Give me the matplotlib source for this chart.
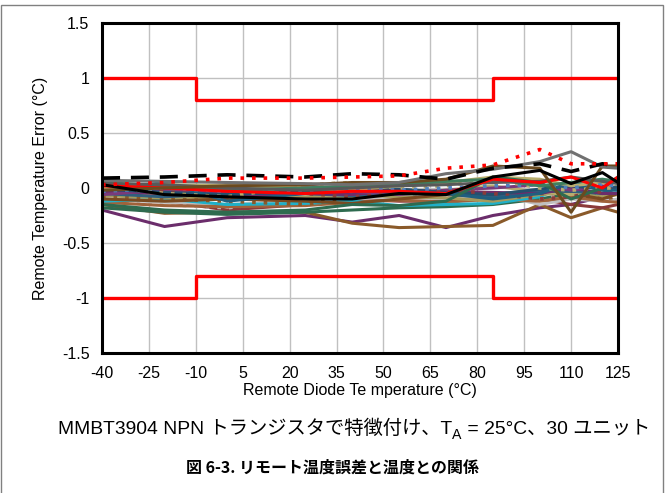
import matplotlib.pyplot as plt
from matplotlib.patches import Rectangle

# measurement temperatures (degC)
temps = [-40, -20, 0, 25, 40, 55, 70, 85, 100, 110, 120, 125]

# spec limits
limit_x = [-40, -10, -10, 85, 85, 125]
limit_hi = [1, 1, 0.8, 0.8, 1, 1]
limit_lo = [-1, -1, -0.8, -0.8, -1, -1]

# 30 units, error in degC
black_dash = [0.09, 0.10, 0.12, 0.10, 0.13, 0.12, 0.08, 0.18, 0.22, 0.15, 0.22, 0.20]
black_solid = [0.03, -0.06, -0.08, -0.10, -0.10, -0.05, -0.06, 0.10, 0.16, 0.04, 0.14, 0.05]
red_dot = [0.03, 0.05, 0.09, 0.09, 0.10, 0.11, 0.18, 0.21, 0.35, 0.22, 0.22, 0.22]
red_solid = [0.02, 0.00, -0.03, -0.05, -0.03, -0.03, -0.05, 0.08, 0.05, 0.10, 0.00, 0.10]
gray_solid = [0.07, 0.06, 0.05, 0.04, 0.03, 0.05, 0.13, 0.17, 0.24, 0.33, 0.19, 0.18]
purple_low = [-0.20, -0.35, -0.27, -0.25, -0.31, -0.25, -0.36, -0.25, -0.18, -0.15, -0.08, -0.12]
purple_mid = [-0.03, -0.05, -0.08, -0.05, -0.06, -0.02, -0.03, -0.04, -0.05, 0.00, -0.05, -0.05]
purple_hi = [-0.06, -0.02, -0.04, 0.02, -0.03, -0.06, -0.02, 0.00, 0.03, -0.02, 0.02, 0.00]
brown_low = [-0.15, -0.23, -0.22, -0.22, -0.32, -0.36, -0.35, -0.34, -0.15, -0.27, -0.18, -0.22]
brown_hi = [-0.02, 0.00, 0.02, 0.03, 0.05, 0.05, 0.08, 0.20, 0.18, -0.22, 0.20, 0.20]
brown_mid = [-0.10, -0.12, -0.10, -0.12, -0.14, -0.10, -0.06, -0.08, -0.02, -0.05, -0.10, -0.05]
brown_dot = [-0.08, -0.10, -0.12, -0.15, -0.08, -0.05, -0.03, -0.05, -0.05, -0.05, -0.10, -0.08]
green_a = [-0.15, -0.20, -0.22, -0.20, -0.15, -0.16, -0.12, 0.10, 0.05, -0.10, 0.00, 0.10]
green_b = [-0.18, -0.22, -0.24, -0.22, -0.20, -0.18, -0.17, -0.15, -0.10, -0.05, -0.05, 0.02]
green_c = [0.05, 0.02, -0.02, 0.00, 0.02, 0.03, 0.06, 0.08, 0.02, 0.05, 0.08, 0.06]
teal_a = [-0.02, 0.05, -0.12, -0.05, -0.02, -0.04, -0.05, -0.10, -0.05, 0.05, -0.02, -0.02]
teal_b = [-0.05, -0.08, -0.05, -0.05, -0.07, -0.05, -0.05, -0.08, -0.03, -0.03, -0.05, 0.00]
cyan_a = [-0.12, -0.10, -0.15, -0.14, -0.12, -0.16, -0.15, -0.14, -0.08, 0.05, 0.00, -0.02]
khaki_a = [0.00, 0.03, 0.02, 0.00, -0.02, 0.02, 0.05, 0.10, 0.08, 0.02, 0.05, 0.05]
khaki_b = [-0.04, -0.07, -0.06, -0.10, -0.08, -0.05, -0.02, 0.02, -0.04, -0.06, -0.02, 0.02]
khaki_dot = [0.02, -0.05, -0.08, 0.03, 0.05, 0.00, 0.02, 0.08, 0.00, -0.02, 0.00, 0.00]
ltgray_a = [-0.10, -0.13, -0.15, -0.12, -0.10, -0.08, -0.10, -0.05, -0.15, -0.10, -0.12, -0.10]
ltgray_dot = [-0.12, -0.15, -0.18, -0.10, -0.08, -0.05, -0.08, -0.05, -0.10, -0.02, -0.05, -0.05]
maroon_a = [-0.10, -0.12, -0.20, -0.15, -0.10, -0.12, -0.12, -0.10, -0.10, -0.15, -0.18, -0.15]
maroon_dot = [0.00, -0.02, 0.00, -0.05, -0.08, -0.05, -0.02, -0.05, -0.10, -0.08, -0.03, 0.00]
olive_a = [-0.07, -0.09, -0.10, -0.08, -0.06, -0.08, -0.09, -0.12, -0.06, -0.04, -0.08, -0.06]
navy_a = [-0.01, -0.04, -0.06, -0.03, -0.02, -0.01, -0.04, -0.06, -0.01, 0.02, -0.01, 0.01]
dgray_a = [0.04, 0.03, 0.00, -0.02, 0.00, 0.02, 0.03, 0.05, 0.06, 0.10, 0.06, 0.04]
orange_a = [-0.13, -0.16, -0.17, -0.16, -0.13, -0.11, -0.13, -0.10, -0.12, -0.08, -0.12, -0.13]
blue_dot = [-0.03, 0.00, -0.03, -0.02, 0.00, -0.02, 0.00, 0.02, 0.03, 0.00, 0.03, 0.02]

units = [
    (purple_low, '#6b2d6b', '-'), (brown_low, '#8a5a2a', '-'), (maroon_a, '#8b3a3a', '-'),
    (green_b, '#2e6b4f', '-'), (ltgray_a, '#bfbfbf', '-'), (ltgray_dot, '#bfbfbf', ':'),
    (orange_a, '#a0623a', '-'), (cyan_a, '#1fb0c8', '-'), (olive_a, '#a49a5c', '-'),
    (brown_dot, '#8a5a2a', ':'), (brown_mid, '#7a4a20', '-'), (khaki_b, '#b8ad6e', '-'),
    (teal_b, '#2f5f7f', '-'), (purple_mid, '#6b2d6b', '-'), (purple_hi, '#7a3a7a', '-'),
    (navy_a, '#24506e', '-'), (maroon_dot, '#8b3a3a', ':'), (teal_a, '#1f5f7f', '-'),
    (khaki_dot, '#b8ad6e', ':'), (khaki_a, '#b8ad6e', '-'), (blue_dot, '#4f81bd', ':'),
    (green_a, '#2e6b4f', '-'), (green_c, '#3f7f5f', '-'), (dgray_a, '#595959', '-'),
    (red_solid, '#ff0000', '-'), (brown_hi, '#6b4a1f', '-'), (gray_solid, '#707070', '-'),
    (black_solid, '#000000', '-'), (black_dash, '#000000', '--'), (red_dot, '#ff0000', ':'),
]

plt.rcParams['font.family'] = ['Liberation Sans', 'Noto Sans CJK JP']
plt.rcParams['axes.unicode_minus'] = False

fig = plt.figure(figsize=(6.66, 4.93), dpi=100)
ax = fig.add_axes([102 / 666, 1 - 353 / 493, 516 / 666, 330 / 493])

for vals, col, ls in units:
    if ls == '--':
        ax.plot(temps, vals, color=col, lw=2.6, dashes=(5, 3))
    elif ls == ':':
        ax.plot(temps, vals, color=col, lw=2.6, dashes=(1, 2.2))
    else:
        ax.plot(temps, vals, color=col, lw=2.2)

ax.plot(limit_x, limit_hi, color='#ff0000', lw=2.4)
ax.plot(limit_x, limit_lo, color='#ff0000', lw=2.4)

ax.set_xlim(-40, 125)
ax.set_ylim(-1.5, 1.5)
ax.set_xticks(range(-40, 126, 15))
ax.set_yticks([-1.5, -1, -0.5, 0, 0.5, 1, 1.5])
ax.set_yticklabels(['-1.5', '-1', '-0.5', '0', '0.5', '1', '1.5'])
ax.grid(True, color='#c0c0c0', lw=1)
ax.set_axisbelow(True)
ax.tick_params(axis='x', length=0, labelsize=11.5, pad=9)
ax.tick_params(axis='y', length=0, labelsize=11.5, pad=9)
for s in ax.spines.values():
    s.set_linewidth(2.2)
    s.set_color('black')

ax.set_xlabel('Remote Diode Te mperature (°C)', fontsize=11.5, labelpad=2)
ax.set_ylabel('Remote Temperature Error (°C)', fontsize=11.5, labelpad=10)

# subtitle with subscript, built from pieces so the CJK fallback still works
pieces = [('MMBT3904 NPN トランジスタで特徴付け、T', 13.9, 0),
          ('A', 10.2, -5),
          (' = 25°C、30 ユニット', 13.9, 0)]
renderer = fig.canvas.get_renderer()
y_sub = 1 - 434 / 493
texts = []
for s, fs, dy in pieces:
    t = fig.text(0, y_sub, s, ha='left', va='baseline', fontsize=fs)
    texts.append((t, dy))
widths = [t.get_window_extent(renderer).width for t, _ in texts]
x0 = (666 - sum(widths)) / 2 + 21
for (t, dy), w in zip(texts, widths):
    t.set_position((x0 / 666, y_sub + dy / 493))
    x0 += w

fig.text(0.5, 1 - 468 / 493, '図 6-3. リモート温度誤差と温度との関係',
         ha='center', va='center', fontsize=11.5, fontweight='bold',
         family=['Noto Sans CJK JP'])

fig.patches.append(Rectangle((1 / 666, -0.05), 662 / 666, 1.05 - 5 / 493,
                             transform=fig.transFigure, fill=False,
                             edgecolor='#808080', lw=1))

fig.savefig('out.png', dpi=100)
